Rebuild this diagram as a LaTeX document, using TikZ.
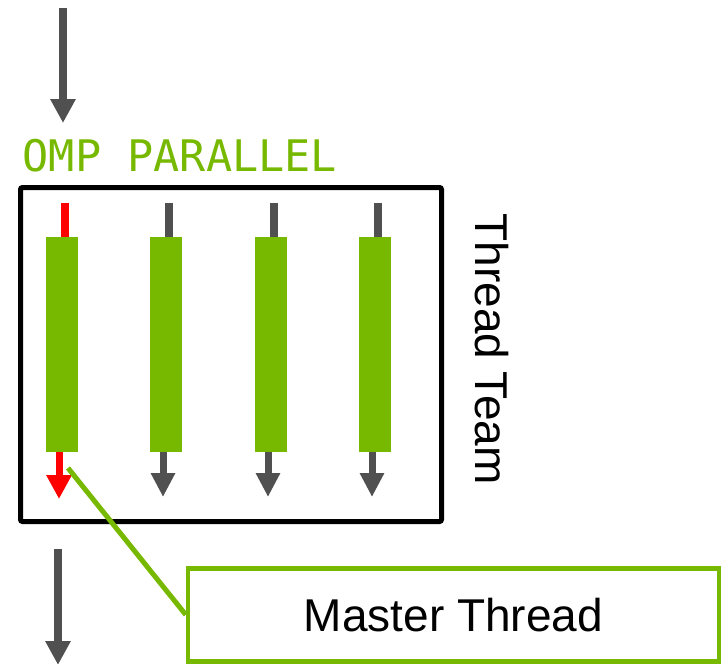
\documentclass[tikz,border=0pt]{standalone}
\usepackage{fontspec}
\setmainfont{Liberation Sans}
\newfontfamily\omonofont{DejaVu Sans Mono}
\usetikzlibrary{arrows.meta}
\definecolor{nvgreen}{HTML}{76B900}
\definecolor{flowgrey}{HTML}{505050}
\definecolor{masterred}{HTML}{FF0000}
\tikzset{
  flowarrow/.style={line width=8pt, flowgrey, -{Triangle[width=24pt,length=24pt]}},
  stubline/.style={line width=7.5pt, flowgrey},
  bar/.style={fill=nvgreen, draw=none, minimum width=32pt, minimum height=215pt, inner sep=0pt, outer sep=0pt},
}
\begin{document}
\begin{tikzpicture}[x=1pt,y=-1pt]
\useasboundingbox (0,0) rectangle (726,664);

% incoming / outgoing flow
\coordinate (inS) at (63,8);
\coordinate (inE) at (63,123);
\draw[flowarrow] (inS) -- (inE);
\coordinate (outS) at (58,549);
\coordinate (outE) at (58,665);
\draw[flowarrow] (outS) -- (outE);

% label
\node[anchor=base west, inner sep=0pt, text=nvgreen, font=\omonofont\fontsize{43.5}{43.5}\selectfont] (omp) at (22.5,171) {OMP PARALLEL};

% team box
\node[draw=black, line width=5pt, rounded corners=2pt, minimum width=421pt, minimum height=334pt, inner sep=0pt] (team) at (231,354.5) {};

\node[rotate=-90, inner sep=0pt, font=\fontsize{46}{46}\selectfont] (tt) at (492,349) {Thread Team};

% threads
\foreach \i/\c in {1/62,2/166,3/271,4/375}{
  \node[bar] (b\i) at (\c,344.5) {};
}
% master thread (red)
\draw[line width=7.5pt, masterred] ([xshift=3pt]b1.north) -- ++(0,-34);
\draw[line width=7pt, masterred, -{Triangle[width=24pt,length=24pt]}] ([xshift=-3pt]b1.south) -- ++(0,47);
\foreach \i in {2,3,4}{
  \draw[stubline] ([xshift=3pt]b\i.north) -- ++(0,-34);
  \draw[line width=7pt, flowgrey, -{Triangle[width=23pt,length=24pt]}] ([xshift=-3pt]b\i.south) -- ++(0,45);
}

% master thread callout
\node[draw=nvgreen, line width=4.5pt, minimum width=531pt, minimum height=93pt, inner sep=0pt, font=\fontsize{46}{46}\selectfont] (master) at (453.5,614.75) {Master Thread};
\coordinate (callS) at (68,468);
\draw[nvgreen, line width=5pt] (callS) -- (master.west);
\end{tikzpicture}
\end{document}
